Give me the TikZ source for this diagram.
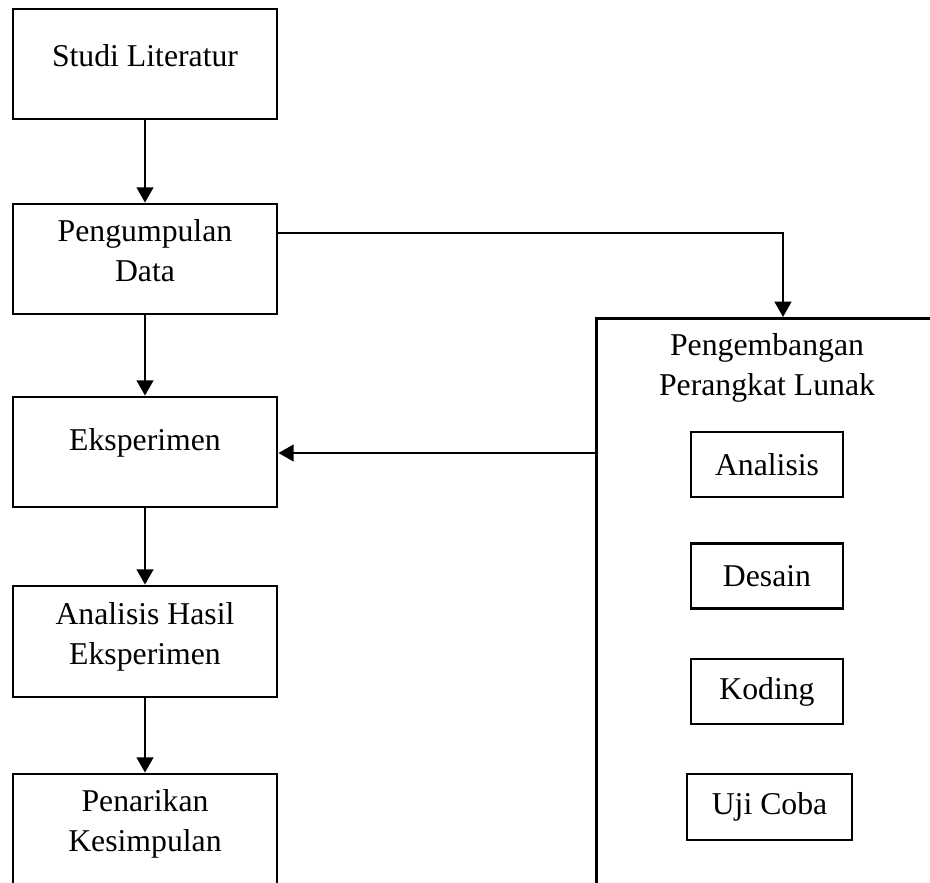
\documentclass[tikz,border=0pt]{standalone}
\usepackage{fontspec}
\setmainfont{Liberation Serif}
\usetikzlibrary{arrows.meta}
\begin{document}
\begin{tikzpicture}[x=0.75pt,y=-0.75pt,
  box/.style={draw=black,line width=2.1pt,minimum width=264*0.75pt,minimum height=110*0.75pt,inner sep=0pt},
  sbox/.style={draw=black,line width=2.1pt,minimum width=152*0.75pt,minimum height=65*0.75pt,inner sep=0pt,font=\fontsize{23.8}{30}\selectfont},
  txt/.style={align=center,inner sep=0pt,font=\fontsize{23.8}{30}\selectfont},
  conn/.style={line width=1.8pt,-{Triangle[width=12.5pt,length=11.5pt]}}]
\useasboundingbox (0,0) rectangle (930,882);
\fill[white] (0,0) rectangle (930,882);
\clip (0,0) rectangle (930,882);
% left column boxes
\node[box] (studi) at (145,64) {};
\node[txt] (studiT) at (145,56) {Studi Literatur};
\node[box] (kumpul) at (145,259) {};
\node[txt] (kumpulT) at (145,251) {Pengumpulan\\Data};
\node[box] (eksp) at (145,452) {};
\node[txt] (ekspT) at (145,443) {Eksperimen};
\node[box,minimum height=111*0.75pt] (hasil) at (145,641.5) {};
\node[txt] (hasilT) at (145,637) {Analisis Hasil\\Eksperimen};
\node[box,minimum height=140*0.75pt] (tarik) at (145,844) {};
\node[txt] (tarikT) at (145,824) {Penarikan\\Kesimpulan};
% big box
\node[draw=black,line width=2.1pt,minimum width=360*0.75pt,minimum height=600*0.75pt,inner sep=0pt,anchor=north west] (dev) at (595,317) {};
\node[txt] (devT) at (767,368) {Pengembangan\\Perangkat Lunak};
\node[sbox] (an) at (767,464.5) {Analisis};
\node[sbox] (de) at (767,576) {Desain};
\node[sbox] (ko) at (767,691.5) {Koding};
\node[sbox,minimum width=165*0.75pt,minimum height=66*0.75pt] (uj) at (769.5,807) {Uji Coba};
% connectors
\draw[conn] (studi.south) -- (kumpul.north);
\draw[conn] (kumpul.south) -- (eksp.north);
\draw[conn] (eksp.south) -- (hasil.north);
\draw[conn] (hasil.south) -- (tarik.north);
\coordinate (k1) at (kumpul.east |- 0,233);
\draw[conn] (k1) -| (783,317);
\coordinate (d1) at (595,453);
\draw[conn] (d1) -- (eksp.east |- d1);
\end{tikzpicture}
\end{document}
